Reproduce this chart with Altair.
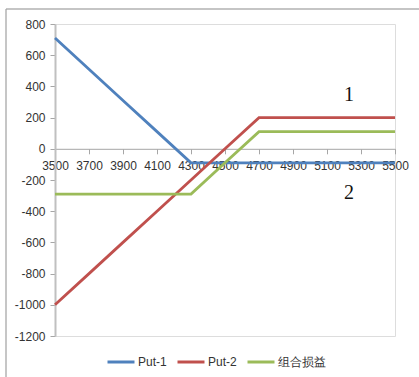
import altair as alt
import pandas as pd

# Underlying price at expiry (x) and profit/loss of each leg (y)
prices = [3500, 3700, 3900, 4100, 4300, 4500, 4700, 4900, 5100, 5300, 5500]
put_1 = [710, 510, 310, 110, -90, -90, -90, -90, -90, -90, -90]
put_2 = [-1000, -800, -600, -400, -200, 0, 200, 200, 200, 200, 200]
combo = [-290, -290, -290, -290, -290, -90, 110, 110, 110, 110, 110]

series_names = ["Put-1", "Put-2", "组合损益"]
series_colors = ["#4f81bd", "#c0504d", "#9bbb59"]

y_ticks = [-1200, -1000, -800, -600, -400, -200, 0, 200, 400, 600, 800]

# Curve tags written beside the lines
tag_text = ["1", "2"]
tag_x = [5230, 5230]
tag_y = [345, -282]

rows = []
for name, vals in zip(series_names, [put_1, put_2, combo]):
    for p, v in zip(prices, vals):
        rows.append({"price": p, "pnl": v, "series": name})
df = pd.DataFrame(rows)
tags = pd.DataFrame({"t": tag_text, "x": tag_x, "y": tag_y})

W, H = 340, 312
Y_MIN, Y_MAX = -1200, 800
zero_from_bottom = H * (0 - Y_MIN) / (Y_MAX - Y_MIN)

label_font = "Liberation Sans"

x_scale = alt.Scale(domain=[3500, 5500], nice=False, zero=False)
y_scale = alt.Scale(domain=[Y_MIN, Y_MAX], nice=False)

# Price axis crosses the value axis at zero
x_axis = alt.Axis(values=prices, format="d", title=None, grid=False,
                  offset=-zero_from_bottom, domainColor="#a6a6a6",
                  domainWidth=1, tickColor="#a6a6a6", tickSize=5,
                  labelFont=label_font, labelFontSize=12,
                  labelColor="#333333", labelPadding=7,
                  labelOverlap=False, labelFlush=False)
y_axis = alt.Axis(values=y_ticks, labelExpr="'' + datum.value",
                  title=None, grid=False, domainColor="#c0c0c0",
                  domainWidth=2, tickColor="#a6a6a6", tickSize=5,
                  labelFont=label_font, labelFontSize=12,
                  labelColor="#333333", labelPadding=5,
                  labelOverlap=False, labelFlush=False)

lines = alt.Chart(df).mark_line(strokeWidth=2.8, clip=False).encode(
    x=alt.X("price:Q", scale=x_scale, axis=x_axis),
    y=alt.Y("pnl:Q", scale=y_scale, axis=y_axis),
    color=alt.Color("series:N",
                    scale=alt.Scale(domain=series_names, range=series_colors),
                    legend=alt.Legend(orient="none", legendX=51, legendY=323,
                                      direction="horizontal", title=None,
                                      symbolType="stroke", symbolSize=729,
                                      symbolStrokeWidth=3, labelFont=label_font,
                                      labelFontSize=12, labelColor="#333333",
                                      labelOffset=2, columnPadding=4)),
)

text = alt.Chart(tags).mark_text(font="Liberation Serif", fontSize=20,
                                 color="#111111", baseline="middle").encode(
    x=alt.X("x:Q", scale=x_scale, axis=x_axis),
    y=alt.Y("y:Q", scale=y_scale, axis=y_axis),
    text="t:N",
)

# Outer chart frame (top and left edges)
frame_df = pd.DataFrame({"k": [0]})
frame_top = alt.Chart(frame_df).mark_rule(color="#8c8c8c", strokeWidth=1.2).encode(
    x=alt.value(-49), x2=alt.value(364), y=alt.value(-15))
frame_left = alt.Chart(frame_df).mark_rule(color="#a0a0a0", strokeWidth=1.2).encode(
    x=alt.value(-49), y=alt.value(-15), y2=alt.value(353))

chart = alt.layer(frame_top, frame_left, lines, text).properties(
    width=W, height=H,
    padding={"left": 55, "top": 24, "right": 24, "bottom": 41},
    autosize=alt.AutoSizeParams(type="none"),
).configure_view(stroke=None).configure_axis(labelOverlap=False).configure(background="white")

chart.save("out.html", embed_options={"renderer": "svg", "actions": False})
